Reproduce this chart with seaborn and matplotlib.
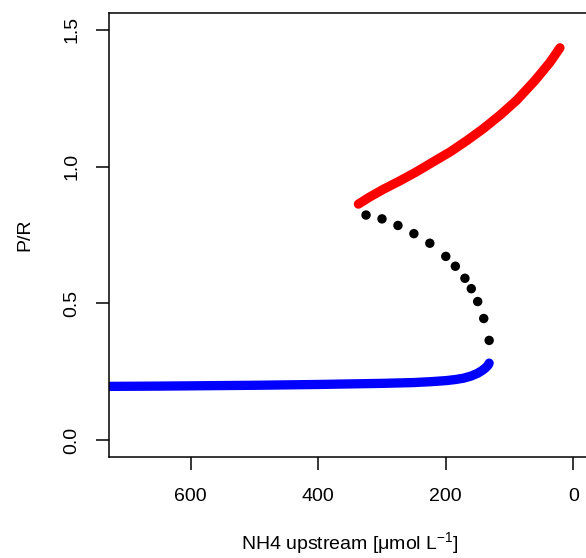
import numpy as np
import pandas as pd
import matplotlib
matplotlib.use("Agg")
import matplotlib.pyplot as plt
import seaborn as sns

# upper stable branch (red)
nh4_high = [337, 320, 298, 272, 246, 220, 193, 167, 141, 115, 89, 60, 37, 21]
pr_high = [0.863, 0.888, 0.917, 0.948, 0.981, 1.017, 1.054, 1.095, 1.139, 1.188, 1.242, 1.315, 1.380, 1.434]

# unstable branch (black dots)
nh4_mid = [325, 300, 275, 250, 225, 200, 185, 170, 160, 150, 140.5, 132]
pr_mid = [0.823, 0.809, 0.785, 0.755, 0.720, 0.672, 0.636, 0.592, 0.554, 0.507, 0.445, 0.365]

# lower stable branch (blue)
nh4_low = [760, 728, 650, 600, 500, 400, 350, 300, 250, 225, 200, 185, 172, 160, 150, 143, 138, 135, 133, 132]
pr_low = [0.196, 0.197, 0.198, 0.199, 0.201, 0.204, 0.206, 0.208, 0.211, 0.214, 0.218, 0.222, 0.227, 0.235, 0.245, 0.255, 0.264, 0.271, 0.277, 0.282]

x_ticks = [600, 400, 200, 0]
y_ticks = [0.0, 0.5, 1.0, 1.5]

sns.set_theme(style="white")
plt.rcParams["font.family"] = ["Liberation Sans", "DejaVu Sans"]
plt.rcParams["mathtext.default"] = "regular"

fig = plt.figure(figsize=(5.86, 5.58), dpi=100)
ax = fig.add_axes([0.186, 0.1815, 0.8229, 0.7946])

high = pd.DataFrame({"nh4": nh4_high, "pr": pr_high})
mid = pd.DataFrame({"nh4": nh4_mid, "pr": pr_mid})
low = pd.DataFrame({"nh4": nh4_low, "pr": pr_low})

sns.lineplot(data=low, x="nh4", y="pr", ax=ax, color="#0000ff", lw=6.7,
             sort=False, estimator=None, solid_capstyle="round", solid_joinstyle="round")
sns.lineplot(data=high, x="nh4", y="pr", ax=ax, color="#ff0000", lw=6.7,
             sort=False, estimator=None, solid_capstyle="round", solid_joinstyle="round")
sns.scatterplot(data=mid, x="nh4", y="pr", ax=ax, color="black", s=46,
                edgecolor="none", zorder=3)

ax.set_xlim(728, -28)
ax.set_ylim(-0.06, 1.56)
ax.set_xticks(x_ticks)
ax.set_xticklabels([str(v) for v in x_ticks])
ax.set_yticks(y_ticks)
ax.set_yticklabels([f"{v:.1f}" for v in y_ticks], rotation=90, va="center")

for s in ax.spines.values():
    s.set_color("black")
    s.set_linewidth(1.1)

ax.tick_params(axis="both", direction="out", length=9.5, width=1.1, color="black",
               labelsize=14, labelcolor="black")
ax.tick_params(axis="x", pad=13)
ax.tick_params(axis="y", pad=11)
ax.tick_params(bottom=True, left=True)

ax.set_xlabel("NH4 upstream [μmol L$^{-1}$]", fontsize=14, labelpad=18, color="black")
ax.set_ylabel("P/R", fontsize=14, labelpad=22, color="black")

fig.savefig("out.png", dpi=100, facecolor="white")
